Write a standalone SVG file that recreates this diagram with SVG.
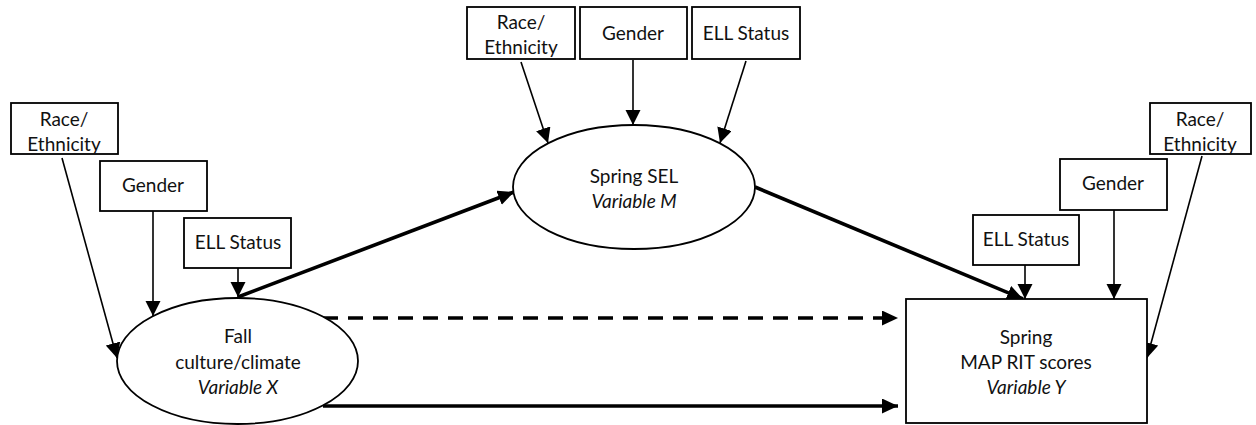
<svg xmlns="http://www.w3.org/2000/svg" width="1256" height="425" viewBox="0 0 1256 425">
  <style>
    .box { fill: #ffffff; stroke: #000000; stroke-width: 1.8; }
    .ell { fill: #ffffff; stroke: #000000; stroke-width: 1.8; }
    .lbl { font-family: Lato, "Open Sans", "Liberation Sans", sans-serif; font-size: 19px; fill: #111111; text-anchor: middle; }
    .big { font-size: 19px; }
    .it { font-style: italic; }
    .thin { stroke: #000000; stroke-width: 1.6; fill: none; marker-end: url(#headThin); }
    .thick { stroke: #000000; stroke-width: 3.6; fill: none; marker-end: url(#headThick); }
    .dash { stroke-dasharray: 15 10; }
  </style>
  <defs>
    <marker id="headThin" markerUnits="userSpaceOnUse" markerWidth="16" markerHeight="16" refX="15" refY="7.5" orient="auto">
      <path d="M0,0 L15,7.5 L0,15 Z" fill="#000000"/>
    </marker>
    <marker id="headThick" markerUnits="userSpaceOnUse" markerWidth="17" markerHeight="17" refX="16" refY="7.5" orient="auto">
      <path d="M0,0 L16,7.5 L0,15 Z" fill="#000000"/>
    </marker>
  </defs>

  <rect width="1256" height="425" fill="#ffffff"/>

  <!-- connectors -->
  <g id="connectors">
    <!-- covariates into Fall culture/climate -->
    <line class="thin" x1="62" y1="158" x2="117" y2="358"/>
    <line class="thin" x1="153" y1="211" x2="153" y2="316"/>
    <line class="thin" x1="238" y1="268" x2="238" y2="297"/>
    <!-- covariates into Spring SEL -->
    <line class="thin" x1="521" y1="62" x2="548" y2="143"/>
    <line class="thin" x1="633" y1="60" x2="633" y2="125"/>
    <line class="thin" x1="746" y1="61" x2="720" y2="143"/>
    <!-- covariates into Spring MAP RIT -->
    <line class="thin" x1="1025" y1="265" x2="1025" y2="299"/>
    <line class="thin" x1="1114" y1="210" x2="1114" y2="299"/>
    <line class="thin" x1="1202" y1="156" x2="1147" y2="358"/>
    <!-- structural paths -->
    <line class="thick" x1="238" y1="297" x2="514" y2="192"/>
    <line class="thick" x1="755" y1="187" x2="1023" y2="299"/>
    <line class="thick dash" x1="323" y1="318" x2="898" y2="318"/>
    <line class="thick" x1="323" y1="406" x2="898" y2="406"/>
  </g>

  <!-- Fall culture/climate -->
  <g id="node-fall">
    <ellipse class="ell" cx="237.5" cy="361" rx="120.5" ry="63"/>
    <text class="lbl big" x="238" y="343">Fall</text>
    <text class="lbl big" x="238" y="369">culture/climate</text>
    <text class="lbl big it" x="238" y="394">Variable X</text>
  </g>

  <!-- Spring SEL -->
  <g id="node-sel">
    <ellipse class="ell" cx="634" cy="187" rx="121" ry="62"/>
    <text class="lbl big" x="634" y="183">Spring SEL</text>
    <text class="lbl big it" x="634" y="208">Variable M</text>
  </g>

  <!-- Spring MAP RIT scores -->
  <g id="node-map">
    <rect class="box" x="906" y="299" width="241" height="124"/>
    <text class="lbl big" x="1026" y="344">Spring</text>
    <text class="lbl big" x="1026" y="369">MAP RIT scores</text>
    <text class="lbl big it" x="1026" y="394">Variable Y</text>
  </g>

  <!-- covariates: Fall -->
  <g id="node-race-x">
    <rect class="box" x="11" y="103" width="107" height="51"/>
    <text class="lbl" x="64" y="126">Race/</text>
    <text class="lbl" x="64" y="151">Ethnicity</text>
  </g>
  <g id="node-gender-x">
    <rect class="box" x="100" y="161" width="107" height="50"/>
    <text class="lbl" x="153" y="192">Gender</text>
  </g>
  <g id="node-ell-x">
    <rect class="box" x="184" y="218" width="107" height="50"/>
    <text class="lbl" x="238" y="249">ELL Status</text>
  </g>

  <!-- covariates: SEL -->
  <g id="node-race-m">
    <rect class="box" x="467" y="7" width="108" height="52"/>
    <text class="lbl" x="521" y="29">Race/</text>
    <text class="lbl" x="521" y="54">Ethnicity</text>
  </g>
  <g id="node-gender-m">
    <rect class="box" x="580" y="7" width="107" height="52"/>
    <text class="lbl" x="633" y="40">Gender</text>
  </g>
  <g id="node-ell-m">
    <rect class="box" x="692" y="7" width="108" height="52"/>
    <text class="lbl" x="746" y="40">ELL Status</text>
  </g>

  <!-- covariates: MAP RIT -->
  <g id="node-ell-y">
    <rect class="box" x="973" y="215" width="106" height="50"/>
    <text class="lbl" x="1026" y="246">ELL Status</text>
  </g>
  <g id="node-gender-y">
    <rect class="box" x="1060" y="159" width="107" height="51"/>
    <text class="lbl" x="1113" y="190">Gender</text>
  </g>
  <g id="node-race-y">
    <rect class="box" x="1150" y="103" width="101" height="51"/>
    <text class="lbl" x="1200" y="126">Race/</text>
    <text class="lbl" x="1200" y="151">Ethnicity</text>
  </g>
</svg>
